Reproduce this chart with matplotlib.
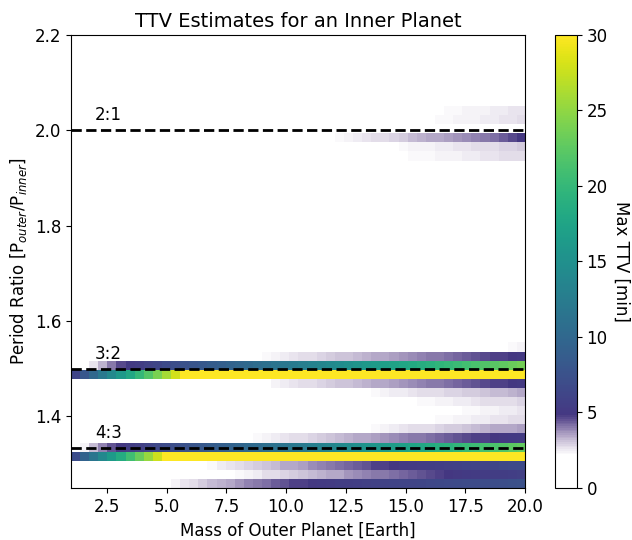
import numpy as np
import matplotlib.pyplot as plt
from matplotlib.colors import ListedColormap

MASS_MIN, MASS_MAX = 1.0, 20.0
N_MASS = 50
PERIOD_MIN, PERIOD_MAX = 1.25, 2.05
N_PERIOD = 42
TTV_MAX = 30

resonances = [2.0, 1.5, 4 / 3]
resonance_labels = ["2:1", "3:2", "4:3"]

# max TTV [min] for each period-ratio row, one value per mass column (0 = blank)
ttv_1260 = [0] * 10 + [2.2, 2.4, 2.6, 2.8, 3.0, 3.2, 3.3, 3.5, 3.7, 3.9, 4.0, 4.2, 4.4, 4.5,
                       4.7, 4.8, 5.0, 5.1, 5.2, 5.4, 5.5, 5.6, 5.7, 5.8, 5.9, 6.0, 6.1, 6.2,
                       6.3, 6.4, 6.5, 6.6, 6.7, 6.8, 6.9, 7.0, 7.1, 7.2, 7.3, 7.4]
ttv_1279 = [0] * 18 + [2.3, 2.4, 2.5, 2.7, 2.8, 2.9, 3.0, 3.1, 3.2, 3.3, 3.4, 3.5, 3.7, 3.8,
                       3.9, 4.0, 4.1, 4.2, 4.3, 4.4, 4.5, 4.6, 4.8, 4.9, 5.0, 5.1, 5.2, 5.3,
                       5.4, 5.5, 5.6, 5.7]
ttv_1298 = [0] * 15 + [2.3, 2.5, 2.6, 2.7, 2.9, 3.0, 3.1, 3.2, 3.4, 3.5, 3.6, 3.8, 3.9, 4.0,
                       4.2, 4.3, 4.4, 4.5, 4.7, 4.8, 4.9, 5.1, 5.2, 5.3, 5.4, 5.6, 5.7, 5.8,
                       6.0, 6.1, 6.2, 6.3, 6.5, 6.6, 6.7]
ttv_1317 = [7.1, 9.4, 11.7, 14.0, 16.3, 18.5, 20.8, 23.1, 25.4, 27.7] + [30] * 40
ttv_1336 = [0, 2.4, 3.2, 3.9, 4.5, 5.0, 5.4, 5.7, 6.1, 6.5, 6.8, 7.2, 7.6, 7.9, 8.3, 8.7,
            9.1, 9.4, 9.8, 10.2, 10.5, 10.9, 11.3, 11.6, 12.0, 12.4, 12.9, 13.3, 13.7,
            14.2, 14.6, 15.0, 15.5, 15.9, 16.3, 16.7, 17.2, 17.6, 18.0, 18.5, 18.9, 19.3,
            19.8, 20.2, 20.6, 21.1, 21.5, 21.9, 22.4, 22.8]
ttv_1355 = [0] * 19 + [2.2, 2.3, 2.4, 2.5, 2.6, 2.7, 2.8, 2.9, 3.0, 3.1, 3.2, 3.3, 3.4, 3.5,
                       3.6, 3.7, 3.8, 3.9, 4.0, 4.1, 4.2, 4.3, 4.4, 4.5, 4.6, 4.7, 4.8, 4.9,
                       5.0, 5.1, 5.2]
ttv_1374 = [0] * 33 + [2.3, 2.4, 2.5, 2.6, 2.7, 2.7, 2.8, 2.9, 3.0, 3.0, 3.1, 3.2, 3.3, 3.4,
                       3.4, 3.5, 3.6]
ttv_1393 = [0] * 40 + [2.25, 2.3, 2.35, 2.4, 2.5, 2.5, 2.6, 2.6, 2.7, 2.8]
ttv_1412 = [0] * 42 + [2.2, 2.3, 2.3, 2.4, 2.4, 2.5, 2.5, 2.6]
ttv_1431 = [0] * 38 + [2.25, 2.3, 2.4, 2.4, 2.5, 2.5, 2.6, 2.7, 2.7, 2.8, 2.8, 2.9]
ttv_1450 = [0] * 33 + [2.3, 2.4, 2.5, 2.5, 2.6, 2.7, 2.7, 2.8, 2.9, 2.9, 3.0, 3.0, 3.1, 3.2,
                       3.2, 3.3, 3.4]
ttv_1469 = [0] * 22 + [2.4, 2.5, 2.6, 2.7, 2.8, 2.9, 3.0, 3.1, 3.1, 3.2, 3.3, 3.4, 3.5, 3.6,
                       3.7, 3.8, 3.9, 4.0, 4.1, 4.2, 4.3, 4.4, 4.5, 4.6, 4.7, 4.8, 4.9, 5.0]
ttv_1488 = [6.2, 8.2, 10.1, 12.1, 14.1, 16.1, 18.0, 20.0, 22.0, 24.0, 25.9, 27.9] + [30] * 38
ttv_1507 = [0, 0, 2.6, 3.3, 4.0, 4.6, 5.1, 5.5, 5.9, 6.3, 6.7, 7.1, 7.5, 7.9, 8.3, 8.7, 9.1,
            9.5, 9.9, 10.3, 10.7, 11.1, 11.5, 11.9, 12.4, 12.8, 13.3, 13.7, 14.2, 14.6,
            15.1, 15.5, 16.0, 16.4, 16.9, 17.3, 17.8, 18.2, 18.7, 19.1, 19.6, 20.0, 20.5,
            20.9, 21.4, 21.8, 22.3, 22.7, 23.2, 23.6]
ttv_1526 = [0] * 21 + [2.3, 2.4, 2.5, 2.6, 2.7, 2.8, 2.9, 3.0, 3.1, 3.1, 3.2, 3.3, 3.4, 3.5,
                       3.6, 3.7, 3.8, 3.9, 4.0, 4.1, 4.2, 4.3, 4.4, 4.5, 4.6, 4.7, 4.8, 4.9,
                       5.0]
ttv_1545 = [0] * 47 + [2.2, 2.3, 2.4]
ttv_1926 = [0] * 49 + [2.15]
ttv_1945 = [0] * 36 + [2.2, 2.25, 2.3, 2.3, 2.35, 2.4, 2.45, 2.5, 2.55, 2.6, 2.65, 2.7, 2.75, 2.8]
ttv_1964 = [0] * 35 + [2.2, 2.3, 2.35, 2.4, 2.45, 2.5, 2.55, 2.6, 2.65, 2.7, 2.75, 2.8, 2.85,
                       2.9, 3.0]
ttv_1983 = [0] * 28 + [2.2, 2.3, 2.4, 2.5, 2.6, 2.7, 2.8, 2.9, 3.0, 3.2, 3.3, 3.4, 3.5, 3.6,
                       3.7, 3.8, 3.9, 4.0, 4.2, 4.4, 4.6, 4.9]
ttv_2021 = [0] * 39 + [2.2, 2.25, 2.3, 2.35, 2.4, 2.45, 2.5, 2.55, 2.6, 2.65, 2.7]
ttv_2040 = [0] * 40 + [2.2, 2.25, 2.3, 2.35, 2.4, 2.45, 2.5, 2.55, 2.6, 2.65]

rows = [
    (1.260, ttv_1260), (1.279, ttv_1279), (1.298, ttv_1298), (1.317, ttv_1317),
    (1.336, ttv_1336), (1.355, ttv_1355), (1.374, ttv_1374), (1.393, ttv_1393),
    (1.412, ttv_1412), (1.431, ttv_1431), (1.450, ttv_1450), (1.469, ttv_1469),
    (1.488, ttv_1488), (1.507, ttv_1507), (1.526, ttv_1526), (1.545, ttv_1545),
    (1.926, ttv_1926), (1.945, ttv_1945), (1.964, ttv_1964), (1.983, ttv_1983),
    (2.021, ttv_2021), (2.040, ttv_2040),
]


def build_grid():
    edges = np.linspace(PERIOD_MIN, PERIOD_MAX, N_PERIOD + 1)
    grid = np.zeros((N_PERIOD, N_MASS))
    for period, values in rows:
        grid[np.searchsorted(edges, period) - 1] = values
    return grid


def faded_viridis():
    # viridis, but fading to transparent below a few minutes
    colors = plt.cm.viridis(np.linspace(0, 1, 256))
    levels = np.linspace(0, TTV_MAX, 256)
    colors[:, 3] = np.clip((levels - 2.1) / 2.7, 0, 1) ** 1.25
    return ListedColormap(colors)


if __name__ == "__main__":
    plt.rcParams['font.size'] = 12

    ttv = build_grid()

    fig = plt.figure(figsize=(6.32, 5.4), dpi=100)
    ax = fig.add_axes([0.1123, 0.0963, 0.7184, 0.8389])
    cax = fig.add_axes([0.878, 0.0963, 0.0348, 0.8389])

    im = ax.imshow(ttv, origin='lower', aspect='auto', interpolation='nearest',
                   extent=(MASS_MIN, MASS_MAX, PERIOD_MIN, PERIOD_MAX),
                   cmap=faded_viridis(), vmin=0, vmax=TTV_MAX)

    for ratio, label in zip(resonances, resonance_labels):
        ax.axhline(ratio, color='k', linestyle='--', linewidth=2)
        ax.text(2.0, ratio + 0.013, label, ha='left', va='bottom')

    ax.set_xlim(MASS_MIN, MASS_MAX)
    ax.set_ylim(1.25, 2.2)
    ax.set_xlabel('Mass of Outer Planet [Earth]')
    ax.set_ylabel(r'Period Ratio [P$_{outer}$/P$_{inner}$]')
    ax.set_title('TTV Estimates for an Inner Planet', fontsize=14)

    cbar = fig.colorbar(im, cax=cax)
    cbar.set_label('Max TTV [min]', rotation=270, labelpad=16)

    plt.savefig('out.png')
